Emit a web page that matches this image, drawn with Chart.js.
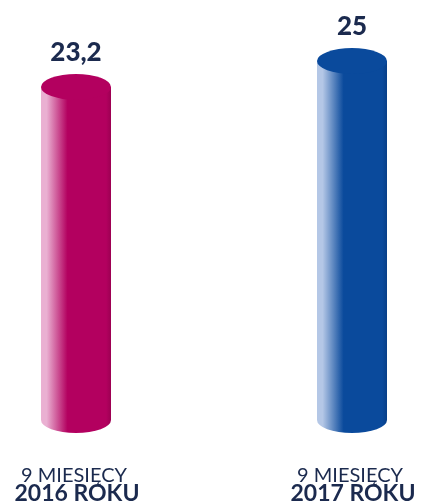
<!DOCTYPE html>
<html>
<head>
<meta charset="utf-8">
<script src="https://cdn.jsdelivr.net/npm/chart.js@4/dist/chart.umd.min.js"></script>
<style>
  html, body { margin: 0; padding: 0; background: #fff; }
  #wrap { width: 426px; height: 504px; }
</style>
</head>
<body>
<div id="wrap"><canvas id="cylChart" width="426" height="504"></canvas></div>
<script>
// data
const periods = ['9 MIESIĘCY', '9 MIESIĘCY'];
const years = ['2016 ROKU', '2017 ROKU'];
const values = [23.2, 25];
const valueLabels = ['23,2', '25'];
const mainColors = ['#b3005f', '#0a4a9c'];
const lightColors = ['#eab0d2', '#b4c7e6'];
const edgeColors = ['#9c0052', '#083f88'];

const textColor = '#1b2a4e';

// draws each bar as a shaded cylinder plus its labels
const cylinderPlugin = {
  id: 'cylinders',
  afterDatasetsDraw(chart) {
    const ctx = chart.ctx;
    const meta = chart.getDatasetMeta(0);
    meta.data.forEach((bar, i) => {
      const { x, y, base, width } = bar.getProps(['x', 'y', 'base', 'width'], true);
      const left = x - width / 2;
      const rx = width / 2;
      const ry = 13;

      ctx.save();
      // body
      const grad = ctx.createLinearGradient(left, 0, left + width, 0);
      grad.addColorStop(0, lightColors[i]);
      grad.addColorStop(0.08, lightColors[i]);
      grad.addColorStop(0.38, mainColors[i]);
      grad.addColorStop(0.93, mainColors[i]);
      grad.addColorStop(1, edgeColors[i]);
      ctx.beginPath();
      ctx.moveTo(left, y);
      ctx.lineTo(left, base);
      ctx.ellipse(x, base, rx, ry, 0, Math.PI, 0, true);
      ctx.lineTo(left + width, y);
      ctx.closePath();
      ctx.fillStyle = grad;
      ctx.fill();

      // top
      ctx.beginPath();
      ctx.ellipse(x, y, rx, ry, 0, 0, Math.PI * 2);
      ctx.fillStyle = mainColors[i];
      ctx.fill();

      // value above
      ctx.fillStyle = textColor;
      ctx.textAlign = 'center';
      ctx.textBaseline = 'alphabetic';
      ctx.font = '900 26px Lato';
      ctx.fillText(valueLabels[i], x, y - ry - 13);

      // category text under
      ctx.font = '20px Lato';
      ctx.fillText(periods[i], x - 2, 482);
      ctx.font = 'bold 23px Lato';
      ctx.fillText(years[i], x + 1, 501);
      ctx.restore();
    });
  }
};

new Chart(document.getElementById('cylChart'), {
  type: 'bar',
  data: {
    labels: years,
    datasets: [{
      data: values,
      backgroundColor: 'rgba(0,0,0,0)',
      barThickness: 70
    }]
  },
  options: {
    responsive: false,
    animation: false,
    events: [],
    layout: { padding: { top: 18, bottom: 84, left: 76, right: 74 } },
    plugins: { legend: { display: false }, tooltip: { enabled: false } },
    scales: {
      x: { display: false, offset: false },
      y: { display: false, min: 0, max: 28 }
    }
  },
  plugins: [cylinderPlugin]
});
</script>
</body>
</html>
